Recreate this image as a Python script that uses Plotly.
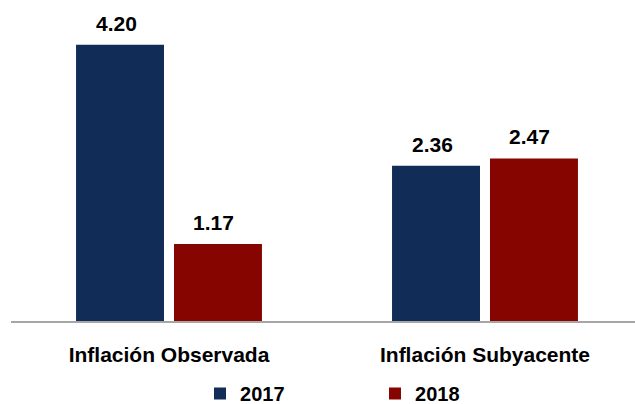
import plotly.graph_objects as go

categories = ["Inflación Observada", "Inflación Subyacente"]
series_names = ["2017", "2018"]
values_2017 = [4.20, 2.36]
values_2018 = [1.17, 2.47]
colors = ["#112d57", "#860500"]

FONT = "Liberation Sans, Arial, sans-serif"

fig = go.Figure()
for name, vals, col in zip(series_names, [values_2017, values_2018], colors):
    fig.add_trace(go.Bar(
        x=categories, y=vals, name=name,
        marker=dict(color=col, line=dict(width=0)),
        hoverinfo="skip",
    ))

# value labels above bars
bargap = 0.380
bargroupgap = 0.102
group_w = 1 - bargap
slot = group_w / len(series_names)
annotations = []
for s, vals in enumerate([values_2017, values_2018]):
    off = -group_w / 2 + slot * (s + 0.5)
    for i, v in enumerate(vals):
        annotations.append(dict(
            x=i + off, y=v, xref="x", yref="y",
            text="<b>%.2f</b>" % v, showarrow=False,
            yanchor="bottom", yshift=8, xshift=-4,
            font=dict(family=FONT, size=21, color="#000000"),
        ))

fig.update_layout(
    width=635, height=404,
    margin=dict(l=11, r=0, t=10, b=83, autoexpand=False),
    paper_bgcolor="white", plot_bgcolor="white",
    barmode="group", bargap=bargap, bargroupgap=bargroupgap,
    annotations=annotations,
    showlegend=True,
    legend=dict(
        orientation="h", xref="container", yref="container",
        x=0.315, xanchor="left", y=0.026, yanchor="middle",
        font=dict(family=FONT, size=20, color="#000000", weight="bold"),
        entrywidth=130, itemwidth=30,
        bgcolor="rgba(0,0,0,0)",
    ),
    font=dict(family=FONT),
)
fig.update_xaxes(
    type="category", range=[-0.5, 1.4747], automargin=False,
    showline=True, linecolor="#a6a6a6", linewidth=2,
    showgrid=False, zeroline=False, ticks="",
    tickfont=dict(family=FONT, size=21, color="#000000", weight="bold"),
    ticklabelstandoff=14,
)
fig.update_yaxes(
    range=[0, 4.727], showgrid=False, zeroline=False, automargin=False,
    showticklabels=False, showline=False,
)

fig.write_html(
    "out.html",
    config={"displayModeBar": False},
    post_script="document.body.style.margin='0';document.body.style.overflow='hidden';",
)
